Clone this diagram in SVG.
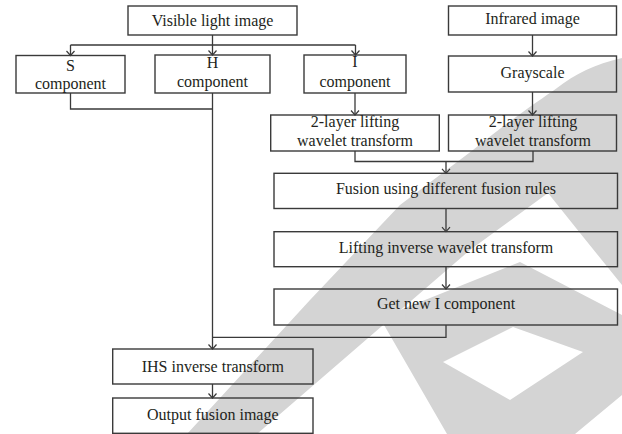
<svg xmlns="http://www.w3.org/2000/svg" width="622" height="434" viewBox="0 0 622 434">
<style>
.box{fill:none;stroke:#3a3a3a;stroke-width:1.4}
.ln{fill:none;stroke:#3a3a3a;stroke-width:1.3}
.arr{marker-end:url(#ah)}
text{font-family:"Liberation Serif","Times New Roman",serif;font-size:16px;fill:#231f20;text-anchor:middle}
.wm{fill:#d4d4d4;stroke:none;fill-rule:evenodd}
</style>
<defs>
<marker id="ah" markerUnits="userSpaceOnUse" markerWidth="12" markerHeight="12" refX="0" refY="0" viewBox="-6 -6 12 12" orient="auto" overflow="visible">
<path d="M-4.5,-4 L0,0 L-4.5,4" fill="none" stroke="#3a3a3a" stroke-width="1.2"/>
</marker>
</defs>
<rect width="622" height="434" fill="#ffffff"/>
<g id="watermark">
<path class="wm" d="M187,434 L310,300 L400,205 L473,150 C510,120 540,100 557,88 C575,74 595,64 622,58 L622,285 L580,233 L548,193 L470,250 L257,434 Z"/>
<path class="wm" d="M380,318 L520,262 L622,315 L622,395 L575,434 L447,434 Z M443,362 L513,327 L583,352 L510,400 Z"/>
</g>
<g id="connectors">
<path class="ln" d="M212.5,35 V45 M70.5,45 H355.5"/>
<path class="ln arr" d="M70.5,45 V55.5"/>
<path class="ln arr" d="M212.5,45 V55"/>
<path class="ln arr" d="M355.5,45 V55"/>
<path class="ln arr" d="M532.5,35 V56"/>
<path class="ln arr" d="M532.5,92 V115"/>
<path class="ln arr" d="M355,93 V115"/>
<path class="ln" d="M355,151 V161.5 H533 V151"/>
<path class="ln arr" d="M446,161.5 V173.3"/>
<path class="ln arr" d="M446,208.5 V231.7"/>
<path class="ln arr" d="M446,266.7 V289"/>
<path class="ln" d="M446,325 V337.3 H212.5"/>
<path class="ln" d="M70.5,93 V109 H212.5"/>
<path class="ln arr" d="M212.5,93 V349"/>
<path class="ln arr" d="M212.5,384 V398"/>
</g>
<g id="visible"><rect class="box" x="128" y="6" width="169" height="29"/><text x="212.5" y="25.7">Visible light image</text></g>
<g id="infrared"><rect class="box" x="448.5" y="6" width="168" height="29"/><text x="532.5" y="23.5">Infrared image</text></g>
<g id="s-comp"><rect class="box" x="16" y="55.5" width="109" height="37.5"/><text x="70.5" y="70.5">S</text><text x="70.5" y="88.5">component</text></g>
<g id="h-comp"><rect class="box" x="155" y="55" width="115" height="38"/><text x="212.5" y="68">H</text><text x="212.5" y="86.5">component</text></g>
<g id="i-comp"><rect class="box" x="304" y="55" width="102" height="38"/><text x="355" y="67">I</text><text x="355" y="86.5">component</text></g>
<g id="grayscale"><rect class="box" x="448.5" y="56" width="168" height="36"/><text x="532.5" y="78">Grayscale</text></g>
<g id="lwt-left"><rect class="box" x="270.7" y="115" width="168.6" height="36"/><text x="355" y="126.7">2-layer lifting</text><text x="355" y="145.7">wavelet transform</text></g>
<g id="lwt-right"><rect class="box" x="448.5" y="115" width="168" height="36"/><text x="533" y="126.7">2-layer lifting</text><text x="533" y="145.7">wavelet transform</text></g>
<g id="fusion"><rect class="box" x="274" y="173.3" width="343.5" height="35.2"/><text x="446" y="194">Fusion using different fusion rules</text></g>
<g id="lifting"><rect class="box" x="274" y="231.7" width="343.5" height="35"/><text x="446" y="252.7">Lifting inverse wavelet transform</text></g>
<g id="getnew"><rect class="box" x="274" y="289" width="343.5" height="36"/><text x="446" y="309.3">Get new I component</text></g>
<g id="ihs"><rect class="box" x="112.7" y="349" width="200.3" height="35"/><text x="212.8" y="371.7">IHS inverse transform</text></g>
<g id="output"><rect class="box" x="112.7" y="398" width="200.3" height="35.3"/><text x="212.8" y="420">Output fusion image</text></g>
</svg>
